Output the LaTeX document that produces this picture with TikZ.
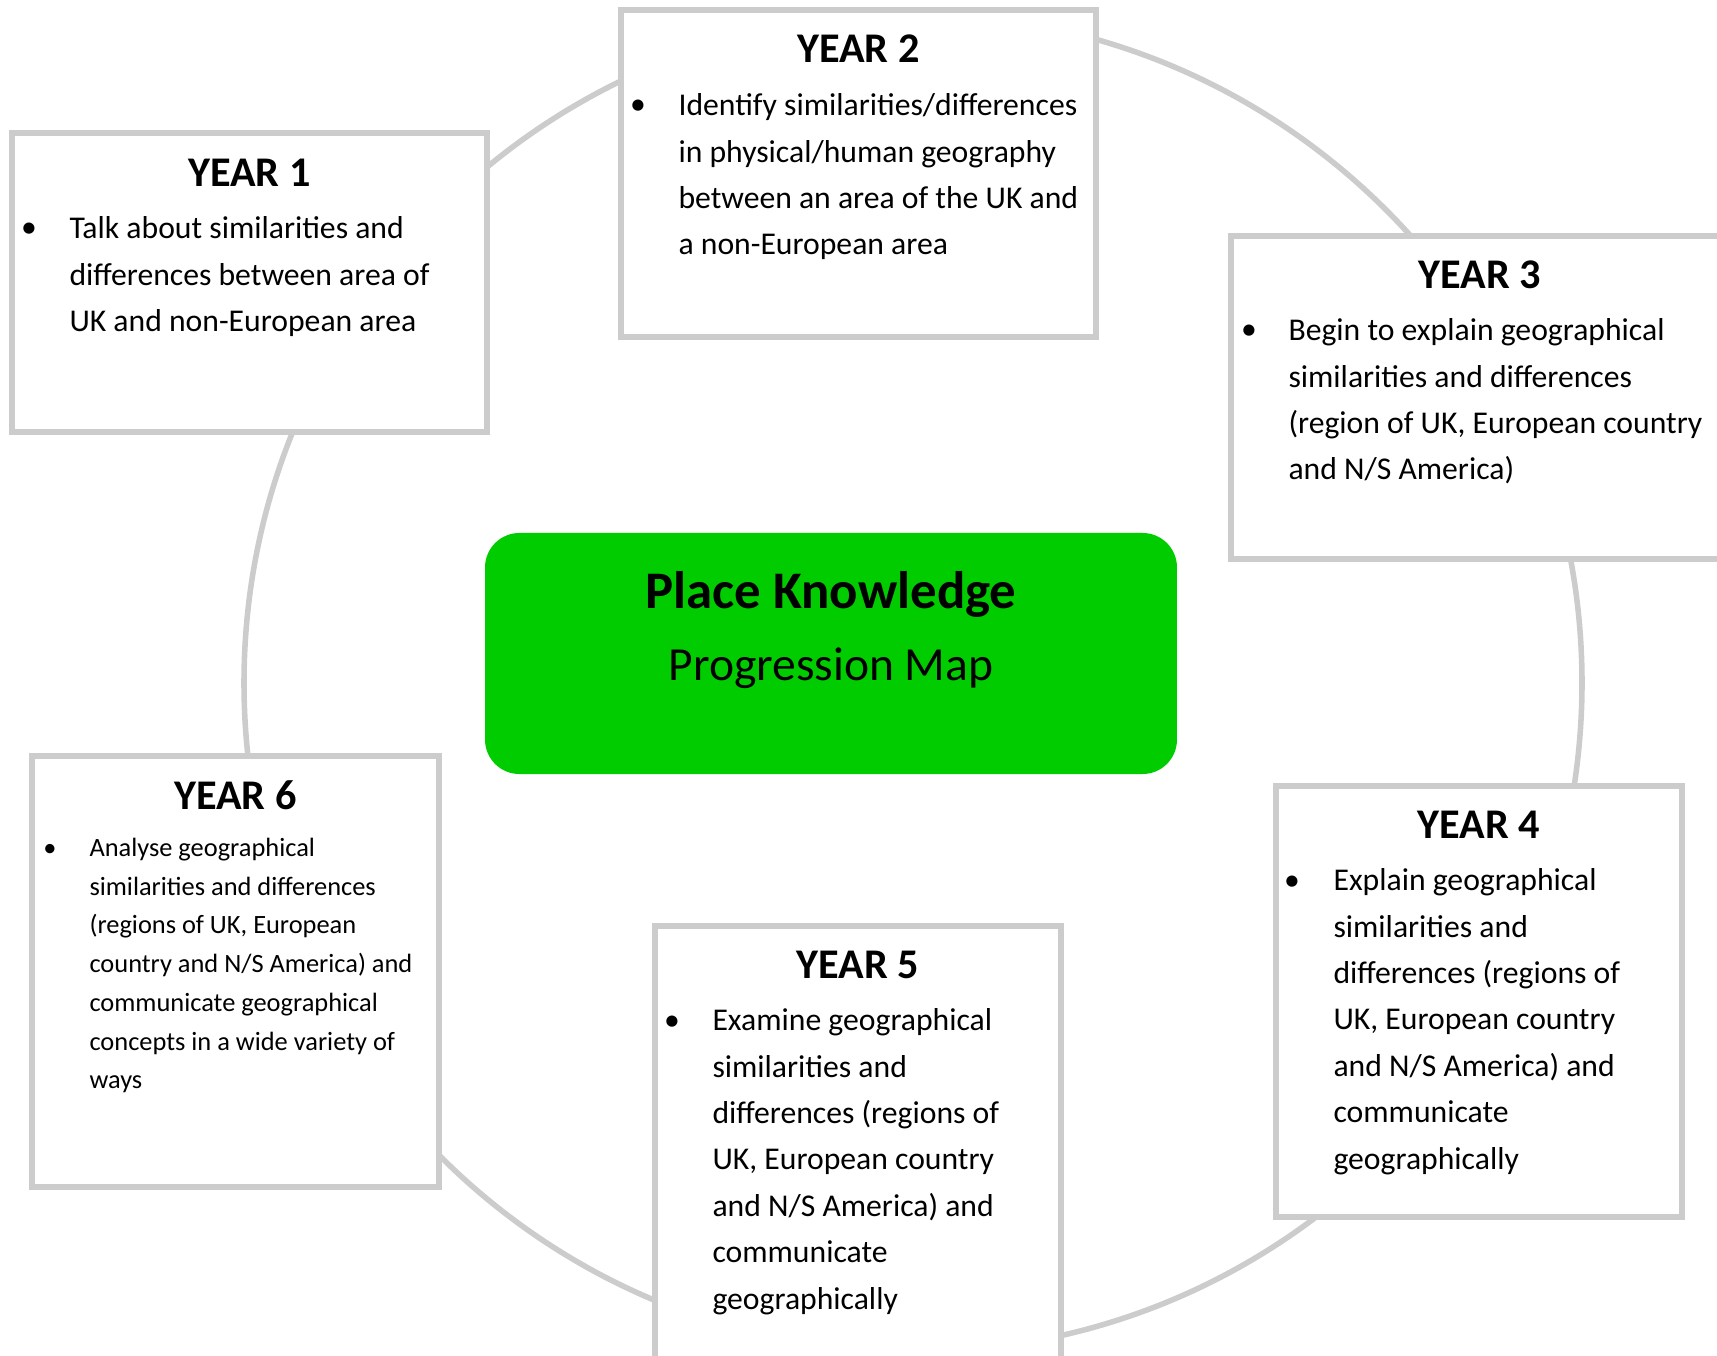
\documentclass[tikz,border=0pt]{standalone}
\usepackage{fontspec}
\setmainfont{Carlito}
\usepackage{xcolor}
\definecolor{ringgray}{RGB}{204,204,204}
\definecolor{mapgreen}{RGB}{0,204,0}

\tikzset{
  yearbox/.style={rectangle, draw=ringgray, line width=2.5pt, fill=white, inner sep=0pt},
  yearhead/.style={anchor=base, inner sep=0pt, font=\fontsize{16}{19}\selectfont\bfseries},
  yeartext/.style={anchor=north west, inner sep=0pt, align=left, font=\fontsize{12}{17.6}\selectfont},
  smalltext/.style={yeartext, font=\fontsize{10}{14.66}\selectfont},
  yeardot/.style={anchor=base, inner sep=0pt, font=\fontsize{12}{17.6}\selectfont},
  smalldot/.style={yeardot, font=\fontsize{10}{14.66}\selectfont},
  hubbox/.style={rectangle, fill=mapgreen, rounded corners=13pt, inner sep=0pt}
}

\begin{document}
\begin{tikzpicture}[x=0.3788pt, y=-0.3788pt]
\useasboundingbox (0,0) rectangle (1717,1356);

\coordinate (hub) at (913,683);
\draw[ringgray, line width=2.1pt] (hub) circle[radius=669];

\node[yearbox, minimum width=179.9pt, minimum height=113.3pt] (y1) at (249.5,282.5) {};
\node[yearhead] (y1head) at (249.5,187) {YEAR 1};
\node[yeardot] (y1dot) at (29,238) {\textbullet};
\node[yeartext] (y1text) at (69,205.5) {\strut Talk about similarities and\\
differences between area of\\
UK and non-European area};

\node[yearbox, minimum width=179.9pt, minimum height=123.9pt] (y2) at (858.5,173.5) {};
\node[yearhead] (y2head) at (858.5,63) {YEAR 2};
\node[yeardot] (y2dot) at (638,115) {\textbullet};
\node[yeartext] (y2text) at (678,82.5) {\strut Identify similarities/differences\\
in physical/human geography\\
between an area of the UK and\\
a non-European area};

\node[yearbox, minimum width=188.6pt, minimum height=122.4pt] (y3) at (1480,397.5) {};
\node[yearhead] (y3head) at (1480,289) {YEAR 3};
\node[yeardot] (y3dot) at (1249,340) {\textbullet};
\node[yeartext] (y3text) at (1288,307.5) {\strut Begin to explain geographical\\
similarities and differences\\
(region of UK, European country\\
and N/S America)};

\node[yearbox, minimum width=153.8pt, minimum height=163.3pt] (y4) at (1479,1001.5) {};
\node[yearhead] (y4head) at (1479,838) {YEAR 4};
\node[yeardot] (y4dot) at (1292,890) {\textbullet};
\node[yeartext] (y4text) at (1333,857.5) {\strut Explain geographical\\
similarities and\\
differences (regions of\\
UK, European country\\
and N/S America) and\\
communicate\\
geographically};

\node[yearbox, minimum width=153.8pt, minimum height=168.2pt] (y5) at (858,1148) {};
\node[yearhead] (y5head) at (858,978) {YEAR 5};
\node[yeardot] (y5dot) at (672,1030) {\textbullet};
\node[yeartext] (y5text) at (712,997.5) {\strut Examine geographical\\
similarities and\\
differences (regions of\\
UK, European country\\
and N/S America) and\\
communicate\\
geographically};

\node[yearbox, minimum width=154.2pt, minimum height=163.3pt] (y6) at (235.5,971.5) {};
\node[yearhead] (y6head) at (235.5,809) {YEAR 6};
\node[smalldot] (y6dot) at (50,856) {\textbullet};
\node[smalltext] (y6text) at (89,828.9) {\strut Analyse geographical\\
similarities and differences\\
(regions of UK, European\\
country and N/S America) and\\
communicate geographical\\
concepts in a wide variety of\\
ways};

\node[hubbox, minimum width=262.1pt, minimum height=91.3pt] (pk) at (831,653.5) {};
\node[anchor=base, inner sep=0pt, font=\fontsize{20}{24}\selectfont\bfseries] (pktitle) at (831,609) {Place Knowledge};
\node[anchor=base, inner sep=0pt, font=\fontsize{18}{22}\selectfont] (pksub) at (831,680) {Progression Map};
\end{tikzpicture}
\end{document}
